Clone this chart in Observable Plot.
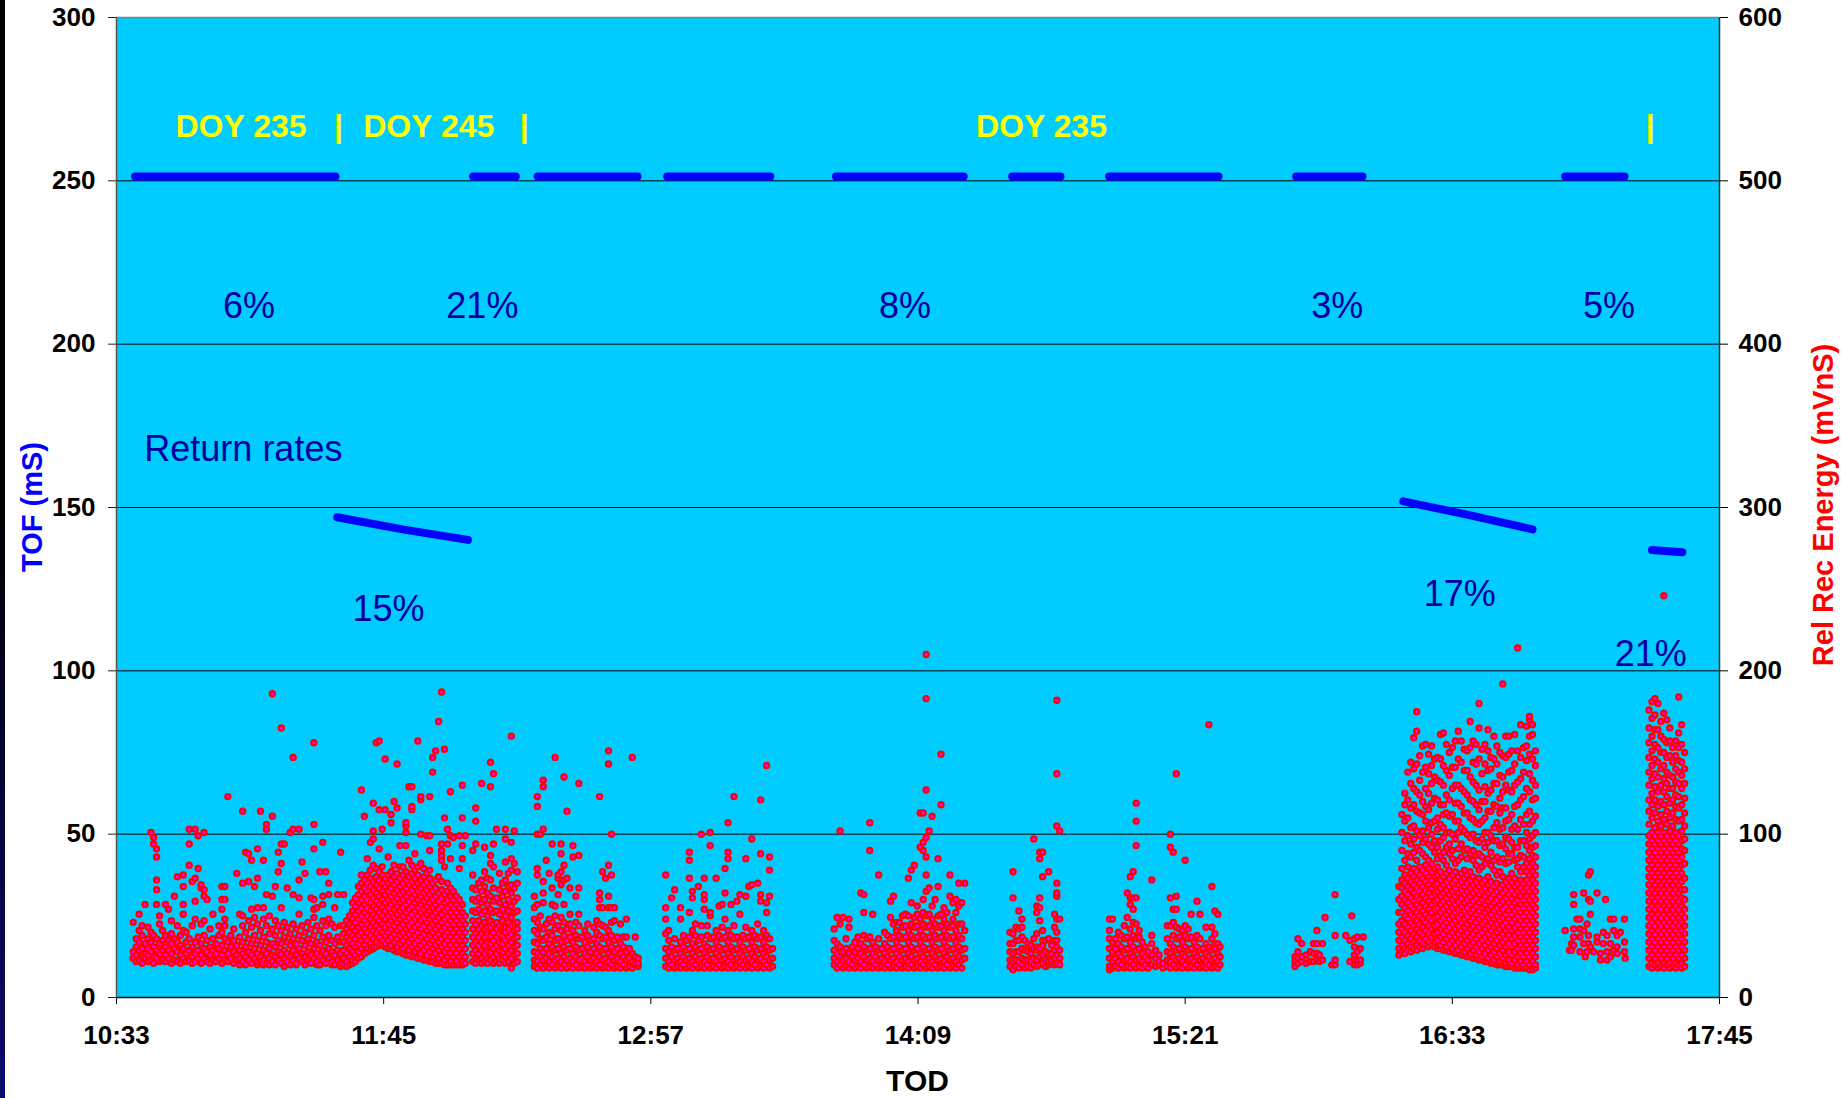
<!DOCTYPE html>
<html><head><meta charset="utf-8">
<script src="https://cdn.jsdelivr.net/npm/d3@7"></script>
<script src="https://cdn.jsdelivr.net/npm/@observablehq/plot@0.6"></script>
<style>
html,body{margin:0;padding:0;background:#fff;overflow:hidden;}
#wrap{position:relative;width:1847px;height:1098px;}
#stripe{position:absolute;left:0;top:0;width:5px;height:1098px;background:linear-gradient(#000 0%,#000 45%,#0b0b6e 100%);}
#wrap svg{display:block;position:absolute;left:0;top:0;}
#wrap svg text{font-family:"Liberation Sans",Arial,Helvetica,sans-serif;}
g[aria-label*="tick label"]{font-weight:bold;}
</style></head>
<body><div id="wrap"><div id="stripe"></div></div>
<script>
// ---------- axes / tick labels ----------
const xTickLabels = ["10:33","11:45","12:57","14:09","15:21","16:33","17:45"];
const tofTicks = [0,50,100,150,200,250,300];
const energyTicks = [0,100,200,300,400,500,600];

// ---------- TOF (blue) series: [minutes after 10:33, TOF mS] per run ----------
const tofRun1 = [[5.0,251.3],[59.0,251.3]];
const tofRun2 = [[59.5,147.0],[77.1,143.3],[94.7,140.1]];
const tofRun3 = [[96.1,251.3],[107.6,251.3]];
const tofRun4 = [[113.5,251.3],[140.4,251.3]];
const tofRun5 = [[148.4,251.3],[176.2,251.3]];
const tofRun6 = [[193.9,251.3],[228.3,251.3]];
const tofRun7 = [[241.4,251.3],[254.4,251.3]];
const tofRun8 = [[267.5,251.3],[297.0,251.3]];
const tofRun9 = [[317.9,251.3],[335.8,251.3]];
const tofRun10 = [[346.8,151.9],[364.0,147.8],[381.6,143.3]];
const tofRun11 = [[390.4,251.3],[406.4,251.3]];
const tofRun12 = [[413.8,137.0],[422.0,136.3]];

// ---------- Rel Rec Energy (red) series: [minutes after 10:33, [mVnS values]] ----------
const energyA = [
[4.5,[24,28,46]],[5.3,[22,26,31,36]],[6.1,[23,29,34,41,51]],[6.9,[21,25,30,38,44]],[7.7,[24,27,33,57]],
[8.5,[22,26,30,36,43]],[9.3,[23,28,34,40,101]],[10.0,[21,25,31,38,94,98]],[10.8,[24,29,36,57,66,72,86,91]],
[11.6,[22,27,33,45,50]],[12.4,[23,29,35,41]],[13.2,[22,26,31,38,57]],[14.0,[24,29,35,54]],[14.8,[21,27,33,39,47]],
[15.6,[23,30,36,62]],[16.4,[22,28,34,44,74]],[17.2,[21,26,32,38]],[18.0,[24,30,41,51,57,68,75]],[18.8,[22,27,34,40]],
[19.6,[23,29,36,81,94,103]],[20.4,[21,25,31,44,71]],[21.2,[22,27,34,48,59,73,103]],[22.0,[24,29,37,79,99]],
[22.8,[21,26,33,45,67,69]],[23.6,[24,30,38,47,62,66,101]],[24.4,[22,28,35,60]],[25.2,[21,26,31,42]],[26.0,[23,29,36,51]],
[26.8,[22,27,33]],[27.6,[24,30,38,44]],[28.4,[21,26,32,40,54,60,68]],[29.2,[23,29,36,44,48,60,68]],[30.0,[22,27,34,123]],
[30.8,[24,31,38]],[31.6,[21,28,35,42]],[32.4,[23,26,32,76]],[33.2,[20,24,29,37,51]],[34.0,[22,27,34,44,50,70,114]],
[34.8,[20,25,31,40,89]],[35.6,[23,28,36,47,71,88]],[36.4,[21,26,33,43,54,84]],[37.2,[24,30,38,49,68]],
[38.0,[20,22,27,35,45,55,73,91]],[38.8,[23,25,32,41,114]],[39.6,[20,23,29,37,48,55,84]],[40.4,[21,27,34,44,63,103,106]],
[41.2,[20,24,30,39,50]],[42.0,[22,26,33,42,62,111,186]],[42.8,[20,25,31,38,47,68]],[43.6,[23,28,35,44,77,89]],
[44.4,[21,27,33,41,55,82,94,165]],[45.2,[19,24,29,37,46,94]],[46.0,[22,27,34,43,67]],[46.8,[20,25,32,39,101]],
[47.6,[23,29,36,45,63,103,147]],[48.4,[20,21,26,33,42]],[49.2,[24,30,38,51,61,72,103]],[50.0,[22,27,35,44,83]],
[50.8,[20,25,32,40,76]],[51.6,[23,28,36,46]],[52.4,[21,26,33,42,61]],[53.2,[24,30,38,49,54,60,91,106,156]],
[54.0,[20,22,27,34,44,55]],[54.8,[20,25,32,41,77]],[55.6,[23,29,37,47,57,62,95]],[56.4,[21,27,34,44,77]],
[57.2,[24,30,38,48,63,70]],[58.0,[20,22,28,35,45]],[58.8,[20,26,33,43,55]],[59.6,[23,29,37,63]],[60.4,[19,21,27,34,44,89]],
[61.2,[20,24,29,34,39,44,63]],[62.0,[19,22,27,32,37,42,47]],[62.8,[20,25,30,35,40,45,50]],[63.6,[21,23,28,33,38,43,48,53,58]],
[64.4,[22,26,31,36,41,46,51,56,61]],[65.2,[24,28,33,38,43,48,53,58,63,68]],[66.0,[25,30,35,40,45,50,55,60,65,70,75,127]],
[66.8,[27,32,37,42,47,52,57,62,67,72,111]],[67.6,[28,30,35,40,45,50,55,60,65,70,75,85]],
[68.4,[29,33,38,43,48,53,58,63,68,73,78,95]],[69.2,[30,31,36,41,46,51,56,61,66,71,81,97,102,119]],
[70.0,[31,34,39,44,49,54,59,64,69,74,79,156]],[70.8,[32,37,42,47,52,57,62,67,72,77,91,115,157]],
[71.6,[32,35,40,45,50,55,60,65,70,75,80,103]],[72.4,[31,33,38,43,48,53,58,63,68,73,115,146]],
[73.2,[30,35,40,45,50,55,60,65,70,75,86]],[74.0,[30,32,37,42,47,52,57,62,67,72,77,107,112]],
[74.8,[29,34,39,44,49,54,59,64,69,74,81,120]],[75.6,[28,31,36,41,46,51,56,61,66,71,76,116,143]],
[76.4,[28,33,38,43,48,53,58,63,68,73,80,93]],[77.2,[27,30,35,40,45,50,55,60,65,70,75,80]],
[78.0,[26,32,37,42,47,52,57,62,67,72,77,93,101,105,107]],[78.8,[26,29,34,39,44,49,54,59,64,69,74,84,129]],
[79.6,[25,31,36,41,46,51,56,61,66,71,76,81,115,117,129]],[80.4,[25,28,33,38,43,48,53,58,63,68,73,78,88]],
[81.2,[24,30,35,40,45,50,55,60,65,70,75,80,157]],[82.0,[24,27,32,37,42,47,52,57,62,67,72,82,100,121,123]],
[82.8,[23,29,34,39,44,49,54,59,64,69,74,79]],[83.6,[23,26,31,36,41,46,51,56,61,66,71,76,99]],
[84.4,[22,28,33,38,43,48,53,58,63,68,73,78,90,99,123]],[85.2,[22,25,30,35,40,45,50,55,60,65,70,138,147]],
[86.0,[21,27,32,37,42,47,52,57,62,67,72,151]],[86.8,[21,24,29,34,39,44,49,54,59,64,74,169]],
[87.6,[21,26,31,36,41,46,51,56,61,66,71,84,87,90,94,187]],[88.4,[20,23,28,33,38,43,48,53,58,63,80,110,152]],
[89.2,[20,25,30,35,40,45,50,55,60,65,70,94,103]],[90.0,[20,22,27,32,37,42,47,52,57,62,67,85,99,126]],
[90.8,[20,25,30,35,40,45,50,55,60,65,98]],[91.6,[20,22,27,32,37,42,47,52,57,62]],
[92.4,[20,25,30,35,40,45,50,55,60,79,99]],[93.2,[20,22,27,32,37,42,47,52,57,85,93,110,130]],[94.0,[21,25,30,35,40,45,50,99]],
[96.0,[22,27,32,37,42,47,53,60,67,75,90]],[96.8,[21,24,29,34,39,45,52,59,66,94,108,116]],[97.6,[23,27,32,37,42,47,54,61,70]],
[98.4,[21,24,29,34,39,44,51,58,65,72,131]],[99.2,[22,27,32,37,42,46,53,60,68,77,92]],[100.0,[21,24,29,34,39,43,50,57,64,73]],
[100.8,[23,28,33,38,43,47,54,62,72,82,87,129,144]],[101.6,[21,25,30,35,40,45,52,59,67,80,94,137]],
[102.4,[22,27,32,37,42,46,53,61,103]],[103.2,[21,24,29,34,39,44,51,58,66,76]],[104.0,[23,28,33,38,43,47,54,62,70]],
[104.8,[21,25,30,35,40,43,50,57,65,72,83,97,103]],[105.6,[22,27,32,37,42,46,53,60,68,76]],
[106.4,[18,24,29,34,39,44,49,56,64,69,78,85,95,160]],[107.2,[21,26,31,36,41,45,52,59,67,82,102]],[108.0,[22,27,32,37,42,46,53,61,70,77]]
];
const energyB = [
[112.6,[19,23,28,34,41,48,55,62]],[113.4,[18,22,27,33,39,46,57,75,79,100,117,123]],[114.2,[20,25,30,36,43,50,100]],
[115.0,[18,23,28,35,42,58,64,71,103,129,133]],[115.8,[19,24,30,37,45,84]],[116.6,[18,22,27,33,40,48,76]],
[117.4,[20,25,31,38,46,57,67,94]],[118.2,[18,23,29,35,42,50,56,147]],[119.0,[19,24,30,36,44,63,73,75]],
[119.8,[18,22,27,34,41,49,69,77,88,94]],[120.6,[20,25,31,38,46,57,72,81,135]],[121.4,[18,23,29,35,42,73,114]],
[122.2,[19,24,30,37,45,51,67]],[123.0,[18,22,27,34,41,86,93]],[123.8,[20,25,31,38,46,62]],
[124.6,[18,23,29,36,44,51,67,87,131]],[125.4,[19,24,30,37]],[126.2,[18,22,27,34,41]],[127.0,[20,25,31,38,45]],
[127.8,[18,23,28,35]],[128.6,[19,24,30,36,43]],[129.4,[18,22,27,33,40,47]],[130.2,[20,25,31,38,45,55,60,64,123]],
[131.0,[18,23,29,36,44,55,77]],[131.8,[19,24,30,37,43,73]],[132.6,[18,22,27,34,41,55,62,81,143,151]],
[133.4,[20,25,31,38,46,55,75,100]],[134.2,[18,23,28,35,47,55]],[135.0,[19,24,30,37]],[135.8,[18,22,27,33,45]],
[136.6,[20,25,31,37]],[137.4,[18,23,28,37,48]],[138.2,[19,24,30]],[139.0,[18,22,27,147]],[139.8,[20,21,25,37]],[140.6,[19,21,24]]
];
const energyC = [
[148.0,[19,24,30,39,48,55,75]],[148.8,[18,22,28,35,41]],[149.6,[20,25,31,61]],[150.4,[18,23,29,36,66]],[151.2,[19,24,30]],
[152.0,[18,22,27,34,48,55]],[152.8,[20,25,31,38]],[153.6,[18,23,29,35]],[154.4,[19,24,30,37,52,73,84,89]],
[155.2,[18,22,27,33,41,61,65]],[156.0,[20,25,31,38,45]],[156.8,[18,23,29,35,68]],[157.6,[19,24,30,37,44,100]],
[158.4,[18,22,27,33,54,60,63,73]],[159.2,[20,25,31,38,44]],[160.0,[18,23,29,36,50,52,93,101]],[160.8,[19,24,30,37]],
[161.6,[18,22,27,34,41,73]],[162.4,[20,25,31,38,56]],[163.2,[18,23,29,36,43,57]],[164.0,[19,24,30,37,48,64,79]],
[164.8,[18,22,27,34,41,85,89,107]],[165.6,[20,25,31,38,57]],[166.4,[18,23,29,36,44,123]],[167.2,[19,24,30,37,59]],
[168.0,[18,22,27,34,51,63]],[168.8,[20,25,31,38]],[169.6,[18,23,29,36,43,62,85]],[170.4,[19,24,30,37,68]],
[171.2,[18,22,27,34,41,69,97]],[172.0,[20,25,31,38]],[172.8,[18,23,29,36,45,70]],[173.6,[19,24,30,37,59,63,88,121]],
[174.4,[18,22,27,34,41]],[175.2,[20,25,31,38,52,58,142]],[176.0,[18,23,29,36,62,78,86]],[176.8,[19,24,30]]
];
const energyD = [
[193.4,[20,24,29,35,42]],[194.2,[18,22,27,33,49]],[195.0,[20,25,31,45,102]],[195.8,[18,23,28,49]],[196.6,[19,24,30,36]],
[197.4,[18,22,27,43,48]],[198.2,[20,25,31]],[199.0,[18,23,28,34]],[199.8,[19,24,30,37]],[200.6,[18,22,27,33,64]],
[201.4,[20,25,31,38,52,63]],[202.2,[18,23,29,36]],[203.0,[19,24,30,37,90,107]],[203.8,[18,22,27,34,51]],[204.6,[20,25,31]],
[205.4,[18,23,29,36,75]],[206.2,[19,24,30]],[207.0,[18,22,27,33,40]],[207.8,[20,25,31,38]],[208.6,[18,23,29,36,49,59]],
[209.4,[19,24,30,37,45,62]],[210.2,[18,22,27,34,41,46]],[211.0,[20,25,31,38,46]],[211.8,[18,23,29,36,43,50]],
[212.6,[19,24,30,37,44,51]],[213.4,[18,22,27,34,41,50,73]],[214.2,[20,25,31,38,45,58,78]],[215.0,[18,23,29,36,43,49,81]],
[215.8,[19,24,30,37,44,51,56]],[216.6,[18,22,27,34,41,48,92,113]],[217.4,[20,25,31,38,45,52,60,90,95,113]],
[218.2,[18,23,29,36,43,50,65,75,86,98,127,183,210]],[219.0,[19,24,30,37,44,51,67,102]],[219.8,[18,22,27,34,41,48,56,111]],
[220.6,[20,25,31,38,45,60]],[221.4,[18,23,29,36,43,50,68,85]],[222.2,[19,24,30,37,44,51,118,149]],
[223.0,[18,22,27,34,41,48,55]],[223.8,[20,25,31,38,45,52]],[224.6,[18,23,29,36,43,62,75]],[225.4,[19,24,30,37,44,48,58]],
[226.2,[18,22,27,34,41,52,60]],[227.0,[20,25,31,38,45,56,70]],[227.8,[18,23,29,36,45,58]],[228.6,[24,30,41,70]]
];
const energyE = [
[240.8,[19,23,28,33,40]],[241.6,[17,22,27,33,39,61,77]],[242.4,[19,23,28,35,43]],[243.2,[18,22,28,35,42,53]],
[244.0,[20,24,30,37,43,48]],[244.8,[18,23,29,35]],[245.6,[19,23,28,33]],[246.4,[18,22,27,32]],[247.2,[20,24,30,36,97]],
[248.0,[19,23,29,31,39,52,56]],[248.8,[20,25,30,47,55,61,85,89]],[249.6,[21,26,32,35,41,74,89]],[250.4,[19,23,28,35]],
[251.2,[20,22,27,36,77]],[252.0,[21,23,27,32]],[252.8,[20,24,29,35,43,51]],
[253.4,[21,26,31,35,40,48,62,64,70,105,137,182]],[254.2,[20,24,29,48,102]]
];
const energyF = [
[267.6,[17,19,24,30,36,41,48]],[268.4,[18,22,28,34,48]],[269.2,[19,24,30,36]],[270.0,[18,22,27,33,40]],[270.8,[20,25,31,38]],
[271.6,[18,23,29,36,44]],[272.4,[19,24,30,37,49,64]],[273.2,[18,22,27,34,42,57,61,74]],[274.0,[20,25,31,38,46,54,61,77]],
[274.8,[18,23,29,36,45,61,93,108,119]],[275.6,[19,24,30,37,41]],[276.4,[18,22,27,34]],[277.2,[20,25,31]],[278.0,[18,23,28]],
[279.0,[20,26,33,38,72]],[280.0,[19,24,29]],[281.0,[20,22,26]],[282.0,[18,21]],[283.2,[19,23,28,36,44]],
[284.0,[18,22,27,33,44,61,92,100]],[284.8,[20,25,31,38,46,54,89]],[285.6,[18,23,29,36,43,54,62,137]],[286.4,[19,24,30,37,42]],
[287.2,[18,22,27,34,41]],[288.0,[20,25,31,38,44,84]],[288.8,[18,23,29,36,42]],[289.6,[19,24,30,37,51]],[290.4,[18,22,27,34]],
[291.2,[20,25,31,38,59]],[292.0,[18,23,29,36,51]],[292.8,[19,24,30]],[293.6,[18,22,27,33,43]],[294.4,[20,25,31,167]],
[295.2,[18,23,29,36,43,68]],[296.0,[19,24,30,33,39,53]],[296.8,[18,22,27,33,51]],[297.4,[20,25,31]]
];
const energyG = [
[317.6,[19,22,25]],[318.4,[21,24,28,36]],[319.4,[22,25,33]],[320.6,[21,26]],[321.7,[22,28]],[322.6,[22,27,33]],
[323.5,[23,27,33,41]],[324.2,[22,26]],[325.0,[23,33]],[325.7,[49]],[327.5,[20]],[328.4,[20,23,38,63]],[331.3,[38]],
[332.4,[22,35]],[332.9,[50]],[333.6,[20,23,26,31,36]],[334.4,[20,23,28,37]],[335.2,[21,23,30]],[336.0,[37]]
];
const energyH = [
[345.6,[26,30,35,40,45,52,60,68]],
[346.4,[28,32,37,42,47,52,57,62,67,72,79,90,101,112]],
[347.2,[27,30,35,40,45,50,55,60,65,70,75,84,96,108,118,125]],
[348.0,[29,33,38,43,48,53,58,63,68,73,80,88,99,110,121,138]],
[348.8,[28,31,36,41,46,51,56,61,66,71,76,86,94,104,116,131,144]],
[349.6,[30,34,39,44,49,54,59,64,69,74,79,89,97,105,118,128,140,159]],
[350.4,[29,32,37,42,47,52,57,62,67,72,77,84,92,102,114,126,143,163,175]],
[351.2,[31,35,40,45,50,55,60,65,70,75,80,90,99,113,124,133,148]],
[352.0,[30,33,38,43,48,53,58,63,68,73,78,88,95,102,112,120,138,154]],
[352.8,[32,36,41,46,51,56,61,66,71,76,81,86,97,108,117,128,141,155]],
[353.6,[31,34,39,44,49,54,59,64,69,74,79,84,94,104,115,125,137,149]],
[354.4,[32,37,42,47,52,57,62,67,72,77,82,92,100,107,119,131,142,154]],
[355.2,[31,34,39,44,49,54,59,64,69,74,79,89,96,108,122,135,146]],
[356.0,[30,35,40,45,50,55,60,65,70,75,80,85,92,103,110,121,133,147]],
[356.8,[30,32,37,42,47,52,57,62,67,72,77,87,96,106,118,132,146,161]],
[357.6,[29,34,39,44,49,54,59,64,69,74,84,89,98,104,112,118,130,142,162]],
[358.4,[29,31,36,41,46,51,56,61,66,71,76,81,92,101,113,124,139,155]],
[359.2,[28,33,38,43,48,53,58,63,68,73,78,88,94,101,111,121,136,150]],
[360.0,[28,30,35,40,45,50,55,60,65,70,75,85,90,100,112,128,141,153]],
[360.8,[27,32,37,42,47,52,57,62,67,72,77,82,97,108,119,130,141,157]],
[361.6,[27,29,34,39,44,49,54,59,64,69,74,84,91,101,108,119,130,146,163]],
[362.4,[26,31,36,41,46,51,56,61,66,71,76,86,94,104,117,128,144,157]],
[363.2,[26,28,33,38,43,48,53,58,63,68,73,78,90,102,113,126,139,152]],
[364.0,[25,30,35,40,45,50,55,60,65,70,75,85,91,100,113,124,139,151]],
[364.8,[25,27,32,37,42,47,52,57,62,67,72,77,88,98,110,121,135,153,169]],
[365.6,[24,29,34,39,44,49,54,59,64,69,74,84,90,100,109,120,132,144,157]],
[366.4,[24,26,31,36,41,46,51,56,61,66,71,81,87,96,107,118,130,143,155]],
[367.2,[23,28,33,38,43,48,53,58,63,68,73,78,88,95,106,115,127,146,165,180]],
[368.0,[23,25,30,35,40,45,50,55,60,65,70,80,86,97,108,120,137,152]],
[368.8,[22,27,32,37,42,47,52,57,62,67,72,82,92,101,110,120,129,143,155]],
[369.6,[22,24,29,34,39,44,49,54,59,64,69,74,85,95,101,114,125,139,151,164]],
[370.4,[21,26,31,36,41,46,51,56,61,66,71,81,89,99,114,127,140,147]],
[371.2,[21,23,28,33,38,43,48,53,58,63,68,78,84,96,104,118,131,146,160]],
[372.0,[20,25,30,35,40,45,50,55,60,65,70,75,86,96,107,117,131,143,154]],
[372.8,[20,22,27,32,37,42,47,52,57,62,67,77,83,93,103,113,122,136,150]],
[373.6,[20,24,29,34,39,44,49,54,59,64,69,74,85,94,104,116,126,135,148,192]],
[374.4,[19,21,26,31,36,41,46,51,56,61,66,71,82,91,98,108,116,130,147,160]],
[375.2,[19,23,28,33,38,43,48,53,58,63,68,73,83,88,97,109,127,138,149,160]],
[376.0,[19,21,26,31,36,41,46,51,56,61,66,71,76,88,95,103,112,126,139,151]],
[376.8,[18,23,28,33,38,43,48,53,58,63,68,73,84,92,105,117,130,143,161]],
[377.6,[18,20,25,30,35,40,45,50,55,60,65,70,80,85,92,103,118,132,151,214]],
[378.4,[18,22,27,32,37,42,47,52,57,62,67,72,77,87,96,109,121,134,147,167]],
[379.2,[18,20,25,30,35,40,45,50,55,60,65,70,80,86,96,106,123,138,153]],
[380.0,[18,22,27,32,37,42,47,52,57,62,67,72,77,82,93,101,112,128,145,154,166]],
[380.8,[17,20,25,30,35,40,45,50,55,60,65,70,75,80,85,90,97,106,114,126,137,149,160,170,172]],
[381.6,[17,22,27,32,37,42,47,52,57,62,67,72,77,82,87,92,99,108,121,133,146,161,167]],
[382.4,[18,20,25,30,35,40,45,50,55,60,65,70,75,80,86,93,101,111,122,130,142,151]]
];
const energyI = [
[390.4,[41]],[391.6,[29]],[392.1,[29,33]],[392.7,[32,37,42,57,63]],[393.6,[48]],[394.4,[28,37,42,48]],[395.4,[33,41,64]],
[395.8,[25]],[396.3,[28,45]],[396.7,[33,38,60,75]],[397.2,[31,51,59,77]],[398.1,[28]],[399.0,[34,37,64]],[399.9,[23,27]],
[400.7,[33,40]],[401.3,[60]],[401.7,[23,28,38]],[402.6,[25,33,48]],[403.5,[29,41,48]],[404.4,[27,31,38]],[405.3,[40]],
[406.4,[28,34,48]],[406.6,[24]]
];
const energyJ = [
[413.0,[19,24,29,34,39,44,49,54,59,64,69,74,79,84,89,94,99,106,114,121,130,138,147,156,165,176]],
[413.8,[18,21,26,31,36,41,46,51,56,61,66,71,76,81,86,91,96,101,110,118,125,134,142,151,160,171,181]],
[414.6,[20,24,29,34,39,44,49,54,59,64,69,74,79,84,89,94,99,104,113,121,129,137,146,155,164,173,183]],
[415.4,[18,21,26,31,36,41,46,51,56,61,66,71,76,81,86,91,96,101,108,117,126,135,144,153,164,180]],
[416.2,[19,24,29,34,39,44,49,54,59,64,69,74,79,84,89,94,99,105,112,120,130,140,150,160,169]],
[417.0,[18,21,26,31,36,41,46,51,56,61,66,71,76,81,86,91,96,101,109,118,126,134,142,150,158,174,246]],
[417.8,[20,24,29,34,39,44,49,54,59,64,69,74,79,84,89,94,99,106,114,123,131,138,147,156,170]],
[418.6,[18,21,26,31,36,41,46,51,56,61,66,71,76,81,86,91,96,102,110,119,128,136,148,157,165]],
[419.4,[19,24,29,34,39,44,49,54,59,64,69,74,79,84,89,94,99,105,113,121,128,135,144,153]],
[420.2,[18,21,26,31,36,41,46,51,56,61,66,71,76,81,86,91,96,101,109,117,124,132,140,148,157]],
[421.0,[20,24,29,34,39,44,49,54,59,64,69,74,79,84,89,94,99,108,116,123,131,138,145,153,162,184]],
[421.8,[18,21,26,31,36,41,46,51,56,61,66,71,76,81,86,91,96,102,109,118,128,136,144,155,167]],
[422.6,[19,24,29,34,39,44,49,54,60,66,73,82,90,97,105,113,122,131,140,150]]
];

// ---------- annotation texts ----------
const rateLabels = ["6%","21%","8%","3%","5%","15%","17%","21%"];
const rateAt = [[35.7,208.1],[98.6,208.1],[212.5,208.1],[329.0,208.1],[402.2,208.1],[73.3,115.2],[362.0,119.8],[413.5,101.4]];
const doyLabels = ["DOY 235","DOY 245","DOY 235"];
const doyAt = [[15.9,263.5],[66.5,263.5],[231.6,263.5]];
const dividerAt = [[59.8,263.5],[109.9,263.5],[413.3,263.5]];
const noteLabel = "Return rates";
const noteAt = [7.5,164.1];

// ---------- build ----------
const toMin = s => { const [h, m] = s.split(":").map(Number); return h * 60 + m; };
const t0 = toMin(xTickLabels[0]);
const xTicks = xTickLabels.map(s => toMin(s) - t0);
const energyPerTof = energyTicks[energyTicks.length - 1] / tofTicks[tofTicks.length - 1];

const tofRuns = [tofRun1,tofRun2,tofRun3,tofRun4,tofRun5,tofRun6,tofRun7,tofRun8,tofRun9,tofRun10,tofRun11,tofRun12];
const bluePts = tofRuns.flatMap((run, k) => run.map(([t, v]) => ({t, v, run: k})));
const redPts = [energyA,energyB,energyC,energyD,energyE,energyF,energyG,energyH,energyI,energyJ]
  .flatMap(cl => cl.flatMap(([t, es]) => es.map(e => ({t, e}))));
const rates = rateLabels.map((s, i) => ({s, t: rateAt[i][0], v: rateAt[i][1]}));
const doys = doyLabels.map((s, i) => ({s, t: doyAt[i][0], v: doyAt[i][1]}));
const dividers = dividerAt.map(([t, v]) => ({s: "|", t, v}));

const tMax = xTicks[xTicks.length - 1], yMax = tofTicks[tofTicks.length - 1];
const font = "Liberation Sans, Arial, Helvetica, sans-serif";

const chart = Plot.plot({
  width: 1847, height: 1098,
  marginLeft: 116, marginRight: 128, marginTop: 17, marginBottom: 101,
  x: {domain: [0, tMax], axis: null},
  y: {domain: [0, yMax], axis: null},
  style: {fontFamily: font, background: "transparent", overflow: "visible"},
  marks: [
    Plot.frame({fill: "#00ccff", stroke: null}),
    Plot.ruleY(tofTicks.slice(1, -1), {stroke: "#000", strokeWidth: 1}),
    Plot.ruleY([yMax], {stroke: "#808080", strokeWidth: 1.5}),
    Plot.ruleY([0], {stroke: "#111", strokeWidth: 1.5}),
    Plot.ruleX([0], {stroke: "#555", strokeWidth: 1.5}),
    Plot.ruleX([tMax], {stroke: "#333", strokeWidth: 1.5}),
    Plot.axisY(tofTicks, {anchor: "left", tickSize: 8, tickPadding: 13, fontSize: 26, fontWeight: "bold", label: null, stroke: "#222"}),
    Plot.axisY(tofTicks, {anchor: "right", tickSize: 8, tickPadding: 11, fontSize: 26, fontWeight: "bold", label: null,
      tickFormat: d => String(energyTicks[tofTicks.indexOf(d)])}),
    Plot.axisX(xTicks, {anchor: "bottom", tickSize: 7, tickPadding: 21, fontSize: 26, fontWeight: "bold", label: null,
      tickFormat: d => xTickLabels[xTicks.indexOf(d)]}),
    Plot.line(bluePts, {x: "t", y: "v", z: "run", stroke: "#0000ff", strokeWidth: 8, strokeLinecap: "round", strokeLinejoin: "round"}),
    Plot.dot(redPts, {x: "t", y: d => d.e / energyPerTof, r: 2.6, fill: "#ff00ff", stroke: "#ff0000", strokeWidth: 2.2}),
    Plot.text(rates, {x: "t", y: "v", text: "s", fontSize: 36, fill: "#0000a0", lineAnchor: "bottom", textAnchor: "middle"}),
    Plot.text([noteLabel], {x: () => noteAt[0], y: () => noteAt[1], text: d => d, fontSize: 36, fill: "#0000a0", lineAnchor: "bottom", textAnchor: "start"}),
    Plot.text(doys, {x: "t", y: "v", text: "s", fontSize: 32, fontWeight: "bold", fill: "#ffff00", lineAnchor: "bottom", textAnchor: "start"}),
    Plot.text(dividers, {x: "t", y: "v", text: "s", fontSize: 32, fontWeight: "bold", fill: "#ffff00", lineAnchor: "bottom", textAnchor: "middle"})
  ]
});

const svg = d3.select(chart);
svg.append("text").attr("x", 917.5).attr("y", 1091).attr("text-anchor", "middle")
  .attr("font-size", 30).attr("font-weight", "bold").attr("fill", "#000").attr("font-family", font).text("TOD");
svg.append("text").attr("transform", "translate(42,507) rotate(-90)").attr("text-anchor", "middle")
  .attr("font-size", 29).attr("font-weight", "bold").attr("fill", "#0000ff").attr("font-family", font).text("TOF (mS)");
svg.append("text").attr("transform", "translate(1833,505) rotate(-90)").attr("text-anchor", "middle")
  .attr("font-size", 29).attr("font-weight", "bold").attr("fill", "#ff0000").attr("font-family", font).text("Rel Rec Energy (mVnS)");

document.getElementById("wrap").appendChild(chart);
</script>
</body></html>
